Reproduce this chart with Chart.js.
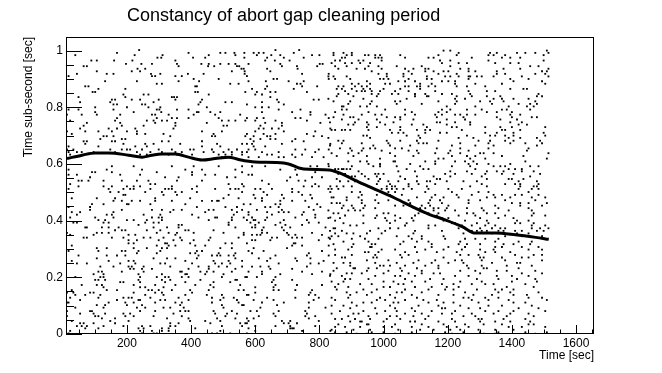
<!DOCTYPE html>
<html>
<head>
<meta charset="utf-8">
<script src="https://cdn.jsdelivr.net/npm/chart.js@4.4.1/dist/chart.umd.min.js"></script>
<style>
  html, body { margin: 0; padding: 0; background: #fff; }
</style>
</head>
<body>
<canvas id="gapChart" width="662" height="373"></canvas>
<script>
var titleText = "Constancy of abort gap cleaning period";
var xTitle = "Time [sec]";
var yTitle = "Time sub-second [sec]";

var xTickValues = [200, 400, 600, 800, 1000, 1200, 1400, 1600];
var xTickLabels = ["200", "400", "600", "800", "1000", "1200", "1400", "1600"];
var yTickValues = [0, 0.2, 0.4, 0.6, 0.8, 1];
var yTickLabels = ["0", "0.2", "0.4", "0.6", "0.8", "1"];

// the dense band (time vs sub-second offset)
var bandX = [13, 60, 101, 143, 205, 247, 278, 309, 351, 392, 434, 475, 517, 548, 600, 663, 704, 736, 767, 830, 870, 910, 953, 1036, 1099, 1140, 1192, 1245, 1286, 1349, 1411, 1474, 1515];
var bandY = [0.619, 0.631, 0.639, 0.639, 0.631, 0.624, 0.631, 0.635, 0.635, 0.624, 0.614, 0.619, 0.624, 0.616, 0.607, 0.605, 0.600, 0.586, 0.581, 0.579, 0.565, 0.543, 0.521, 0.479, 0.444, 0.423, 0.403, 0.379, 0.356, 0.356, 0.350, 0.341, 0.334];

// scattered entries, one row per sub-second value: [y, [x, x, ...]]
var dotsUpperLeft = [
  [1.002, [238, 663, 737]],
  [0.992, [169, 392, 491, 507, 535, 566, 595, 611, 626, 720]],
  [0.984, [39, 224, 311, 455, 538, 605, 650, 678, 777, 800]],
  [0.975, [295, 307, 406, 444, 566, 637, 689, 751]],
  [0.965, [89, 106, 160, 217, 351, 631, 661, 707]],
  [0.953, [197, 245, 278, 356, 432, 455, 491, 517, 538, 579, 678, 801, 810]],
  [0.945, [65, 75, 361, 453, 472, 543, 550, 683, 730, 793]],
  [0.936, [233, 257, 557, 564, 637, 732]],
  [0.927, [106, 215, 241, 527, 567, 647]],
  [0.918, [44, 137, 158, 275, 304, 390, 439, 567, 746, 829]],
  [0.910, [18, 278, 288, 351, 371, 574]],
  [0.900, [408, 486, 657, 668, 829]],
  [0.892, [132, 231, 361, 425, 579, 633, 704, 751]],
  [0.883, [293, 309, 522, 548, 730, 741]],
  [0.874, [70, 80, 413, 418, 637, 746, 793]],
  [0.865, [111, 195, 590, 631, 720]],
  [0.854, [93, 101, 413, 421, 569, 605, 647, 663, 761]],
  [0.845, [189, 252, 267, 455, 600, 621]],
  [0.836, [49, 195, 340, 347, 356, 647]],
  [0.827, [153, 163, 215, 241, 299, 351, 434, 668, 782, 798]],
  [0.818, [54, 148, 283, 429, 507, 527, 621, 673]],
  [0.810, [158, 169, 247, 257, 423, 574, 689]],
  [0.800, [101, 200, 267, 304, 449, 600, 621, 642]],
  [0.792, [18, 49, 158, 293, 301, 356, 392, 673, 741]],
  [0.783, [101, 221, 307, 418, 423, 460, 491, 621, 715, 772]],
  [0.774, [13, 59, 106, 179, 278, 288, 330, 408, 475, 553, 772, 819]],
  [0.762, [169, 293, 340, 356, 392, 486, 574, 605, 626, 725, 741, 829]],
  [0.753, [23, 163, 262, 283, 309, 325, 496, 517, 538, 569, 600, 663, 761]],
  [0.745, [75, 179, 288, 351, 449, 631, 683, 803]],
  [0.735, [65, 184, 252, 351, 501, 512, 616, 683]],
  [0.725, [54, 143, 169, 226, 345, 611, 626, 652, 673, 834]],
  [0.715, [13, 70, 111, 153, 200, 231, 434, 496, 600, 689, 787]],
  [0.706, [28, 231, 257, 314, 470, 574, 626, 663, 761]],
  [0.698, [127, 137, 158, 335, 465, 475, 569, 595, 637, 647, 782, 808]],
  [0.688, [117, 184, 195, 585, 616, 647, 663, 725]],
  [0.680, [65, 75, 153, 163, 309, 330, 434, 595, 715, 751]],
  [0.671, [70, 189, 257, 283, 366, 481, 559, 574, 590, 683, 834]],
  [0.662, [18, 111, 226, 262, 434, 491, 595, 631]],
  [0.651, [13, 33, 148, 184, 200, 210, 247, 299, 340, 397, 408, 465, 517, 543, 579, 600, 725, 756, 798, 829]],
  [0.642, [18, 44, 59, 96, 163, 231, 273, 309, 351, 371, 439, 470, 501, 527, 559, 574, 621, 673, 787]],
  [0.633, [23, 65, 241, 262, 293, 330, 356, 403, 486, 507, 527, 559, 637, 652, 715, 746]],
  [0.624, [496, 517, 579, 611, 673, 689, 725, 777, 813]],
  [0.592, [153, 221, 340, 408, 486, 559, 590, 631, 772, 793, 829]],
  [0.580, [18, 137, 247, 382, 434, 538, 678, 725]],
  [0.571, [91, 101, 153, 293, 403, 559, 787]],
  [0.562, [18, 44, 179, 241, 403, 444, 475, 579, 590, 730]],
  [0.553, [85, 319, 361, 512, 538, 709, 777, 808]],
  [0.541, [49, 59, 80, 127, 184, 231, 267, 356, 434, 621, 699, 735, 756]],
  [0.529, [23, 273, 288, 517, 559, 642, 787]]
];

var dotsUpperRight = [
  [1.000, [1187, 1208, 1509]],
  [0.992, [844, 875, 901, 1234, 1332, 1353, 1416, 1442, 1473, 1514]],
  [0.984, [844, 885, 901, 942, 953, 974, 989, 1052, 1171, 1228, 1327, 1343, 1379, 1499]],
  [0.975, [870, 880, 974, 984, 994, 1067, 1140, 1156, 1275, 1369, 1395, 1426]],
  [0.965, [849, 864, 922, 937, 994, 1176, 1208, 1327, 1499]],
  [0.956, [838, 880, 901, 927, 958, 1182, 1234, 1260, 1348, 1395, 1421]],
  [0.945, [849, 885, 953, 984, 1041, 1119, 1208, 1457, 1483]],
  [0.936, [859, 916, 942, 994, 1067, 1093, 1130, 1140, 1239, 1265, 1374, 1426, 1514]],
  [0.927, [963, 1078, 1130, 1156, 1187, 1202, 1265, 1286, 1353, 1494, 1509]],
  [0.918, [984, 1010, 1062, 1088, 1171, 1228, 1353, 1379, 1473, 1504]],
  [0.909, [828, 844, 885, 1010, 1062, 1135, 1192, 1208, 1234, 1265, 1270, 1291, 1306, 1343, 1431, 1514]],
  [0.900, [849, 896, 989, 1000, 1015, 1078, 1135, 1150, 1265, 1395, 1452]],
  [0.892, [948, 1046, 1067, 1098, 1182, 1202, 1223, 1405, 1494]],
  [0.883, [901, 922, 958, 1005, 1020, 1114, 1150, 1223, 1286, 1369, 1504]],
  [0.874, [859, 875, 911, 932, 948, 1067, 1078, 1104, 1114, 1140, 1161, 1228, 1260, 1317]],
  [0.865, [854, 870, 901, 937, 958, 1000, 1052, 1114, 1395, 1436, 1447]],
  [0.857, [880, 916, 932, 942, 963, 989, 1036, 1078, 1161, 1265, 1322, 1348]],
  [0.847, [859, 890, 963, 984, 1026, 1046, 1098, 1130, 1182, 1213, 1270, 1483]],
  [0.839, [854, 906, 979, 1098, 1135, 1140, 1228, 1275, 1322, 1364, 1478, 1494]],
  [0.830, [828, 937, 1072, 1223, 1254, 1343, 1369, 1405, 1452]],
  [0.821, [844, 896, 963, 1036, 1052, 1171, 1228, 1301, 1332, 1374, 1473]],
  [0.812, [890, 958, 1041, 1119, 1223, 1338, 1421, 1457, 1478]],
  [0.803, [870, 875, 927, 948, 979, 1197, 1286, 1390, 1447, 1468]],
  [0.792, [870, 885, 1005, 1067, 1182, 1208, 1260, 1306, 1369, 1384, 1457]],
  [0.783, [849, 953, 1088, 1171, 1197, 1322, 1353, 1400]],
  [0.774, [875, 932, 974, 994, 1067, 1098, 1161, 1182, 1223, 1239, 1260, 1286, 1395, 1426]],
  [0.765, [844, 896, 906, 1010, 1036, 1052, 1166, 1249, 1353, 1400, 1462, 1478]],
  [0.757, [870, 922, 979, 1052, 1093, 1197, 1254, 1364, 1416]],
  [0.747, [833, 911, 948, 989, 1031, 1166, 1176, 1223, 1270, 1395, 1431]],
  [0.739, [890, 906, 953, 1005, 1088, 1124, 1197, 1270, 1421, 1447]],
  [0.730, [948, 979, 1052, 1135, 1213, 1228, 1317, 1364, 1400, 1504]],
  [0.720, [838, 849, 870, 880, 896, 953, 1020, 1052, 1104, 1130, 1145, 1244, 1369, 1379, 1426]],
  [0.710, [1026, 1046, 1062, 1130, 1176, 1197, 1317, 1353, 1405, 1499]],
  [0.700, [937, 948, 1072, 1109, 1260, 1332, 1348, 1379, 1405, 1504]],
  [0.692, [828, 958, 1114, 1234, 1280, 1390, 1426, 1478]],
  [0.682, [859, 875, 1010, 1052, 1104, 1171, 1296, 1332, 1379, 1405, 1488]],
  [0.673, [870, 932, 1015, 1109, 1124, 1135, 1239, 1327, 1395, 1442, 1494]],
  [0.665, [833, 968, 1020, 1083, 1213, 1286, 1343, 1478]],
  [0.655, [864, 896, 937, 958, 974, 1036, 1057, 1166, 1239, 1327, 1452]],
  [0.647, [901, 932, 994, 1078, 1104, 1208, 1265, 1447]],
  [0.638, [838, 890, 922, 1020, 1109, 1161, 1202, 1239, 1301, 1312, 1343, 1514]],
  [0.628, [854, 906, 948, 1036, 1093, 1213, 1260, 1286, 1369, 1436]],
  [0.619, [989, 1171, 1187, 1270, 1317, 1509]],
  [0.609, [890, 927, 948, 1031, 1036, 1130, 1161, 1223, 1254, 1280, 1442]],
  [0.600, [828, 953, 989, 1083, 1161, 1265, 1291, 1327, 1395]],
  [0.592, [901, 968, 989, 1041, 1114, 1213, 1270, 1343, 1364, 1379, 1457, 1483]],
  [0.582, [849, 859, 870, 875, 885, 896, 1072, 1124, 1140, 1286, 1390, 1410, 1431]],
  [0.574, [922, 1046, 1098, 1208, 1260, 1322, 1353, 1374, 1431, 1468]],
  [0.565, [859, 880, 932, 974, 984, 1000, 1192, 1223, 1275, 1317, 1369, 1405, 1488]],
  [0.556, [890, 901, 911, 942, 979, 1052, 1104, 1156, 1208, 1306, 1457]],
  [0.547, [854, 953, 989, 1067, 1166, 1176, 1322, 1390, 1400, 1436]],
  [0.539, [864, 890, 911, 984, 1015, 1046, 1104, 1135, 1145, 1197, 1249, 1291, 1421, 1478]],
  [0.529, [979, 1020, 1078, 1109, 1161, 1306, 1379, 1410, 1426, 1483]]
];

var dotsLowerLeft = [
  [0.521, [49, 127, 153, 200, 221, 241, 340, 418, 564, 751, 777, 798, 834]],
  [0.512, [18, 143, 189, 210, 221, 273, 319, 330, 340, 403, 475, 522, 538, 548, 600, 616, 652, 715]],
  [0.501, [148, 174, 257, 309, 351, 371, 418, 559, 626, 715, 735, 834]],
  [0.491, [189, 195, 314, 356, 517, 595, 637, 683, 746, 772]],
  [0.479, [28, 106, 163, 288, 397, 501, 548, 600, 621, 689, 777]],
  [0.470, [158, 184, 215, 241, 288, 340, 434, 465, 481, 486, 621, 678, 715, 756]],
  [0.458, [91, 127, 200, 205, 273, 382, 564, 585, 663, 678, 793]],
  [0.448, [18, 85, 418, 507, 543, 631, 647, 673, 767, 803]],
  [0.438, [85, 184, 278, 309, 345, 371, 455, 470, 527, 559, 605, 683, 782]],
  [0.430, [28, 54, 158, 335, 444, 543, 579, 637, 673, 689, 704, 751]],
  [0.421, [44, 137, 153, 252, 304, 403, 533, 579, 652, 746, 787]],
  [0.411, [23, 101, 158, 278, 299, 309, 423, 475, 481, 527, 564, 590, 637, 725, 787, 834]],
  [0.402, [111, 132, 200, 221, 262, 309, 455, 527, 574, 595, 600, 631, 689, 761]],
  [0.393, [33, 44, 127, 143, 257, 283, 299, 517, 585, 611, 678, 767, 798]],
  [0.385, [236, 361, 371, 517, 600, 663, 694, 746]],
  [0.376, [70, 75, 122, 143, 174, 283, 325, 361, 538, 590, 600, 626, 683, 709, 819]],
  [0.366, [163, 184, 195, 262, 304, 382, 392, 470, 621, 689]],
  [0.357, [13, 106, 122, 143, 293, 330, 356, 408, 501, 564, 621, 637, 699, 777]],
  [0.350, [23, 96, 205, 226, 351, 564, 590, 605, 616, 704, 725, 808]],
  [0.340, [65, 75, 153, 189, 252, 273, 314, 366, 460, 548, 652, 668, 715, 730, 746, 829]],
  [0.331, [205, 231, 299, 345, 371, 408, 455, 590, 600, 647, 798]],
  [0.320, [205, 221, 319, 325, 397, 507, 527, 574, 720, 725]],
  [0.312, [28, 293, 330, 351, 413, 444, 715, 746, 829]],
  [0.303, [106, 137, 221, 262, 309, 325, 491, 527, 595, 699]],
  [0.293, [18, 111, 184, 195, 236, 304, 418, 434, 579, 626, 808]],
  [0.285, [231, 293, 397, 413, 486, 538, 590, 767]],
  [0.277, [49, 137, 169, 195, 423, 465, 481, 491, 517, 533, 663, 761, 829]],
  [0.267, [106, 283, 325, 351, 418, 538, 611, 647, 725, 772]],
  [0.258, [28, 143, 205, 221, 382, 470, 517, 559, 637, 730, 813]],
  [0.249, [44, 75, 179, 226, 304, 319, 403, 475, 496, 522, 673, 772, 798]],
  [0.238, [117, 158, 205, 215, 252, 335, 423, 455, 486, 512, 559, 590, 616, 642, 761]],
  [0.230, [210, 221, 247, 278, 392, 455, 538, 647, 715]],
  [0.220, [111, 122, 184, 252, 366, 371, 429, 449, 470, 527, 579, 621, 746, 808]],
  [0.211, [96, 127, 236, 309, 382, 387, 444, 501, 621, 678, 777, 834]],
  [0.201, [39, 117, 127, 241, 293, 319, 330, 371, 392, 496, 569, 574, 605, 663]],
  [0.191, [101, 111, 132, 236, 309, 335, 429, 538, 543, 657, 715]],
  [0.183, [179, 189, 241, 319, 382, 470, 522, 652]],
  [0.173, [59, 106, 122, 221, 288, 351, 413, 460, 553, 663, 730, 808]],
  [0.165, [127, 241, 257, 314, 470, 600, 657]],
  [0.155, [28, 137, 169, 267, 278, 299, 340, 397, 455, 548, 564, 657, 673, 725, 777]],
  [0.146, [13, 33, 85, 96, 221, 288, 309, 403, 600, 772]],
  [0.138, [39, 70, 117, 257, 314, 382, 449, 496, 574, 579, 767, 787]],
  [0.128, [23, 111, 189, 205, 215, 273, 361, 465, 501, 533, 637, 725, 798]],
  [0.120, [54, 169, 236, 241, 304, 319, 392, 491, 543, 595, 657, 782]],
  [0.111, [13, 18, 143, 195, 221, 288, 351, 371, 465, 548, 621, 689, 767]],
  [0.102, [106, 132, 200, 247, 366, 496, 559, 564, 668]],
  [0.093, [7, 39, 127, 231, 257, 314, 335, 377, 501, 616, 767, 819]],
  [0.081, [13, 85, 91, 241, 288, 366, 382, 392, 470, 527, 585, 605, 673, 756]],
  [0.072, [54, 96, 132, 189, 210, 345, 475, 512, 543, 657, 761]],
  [0.063, [13, 101, 111, 195, 221, 283, 371, 507, 611, 663, 756, 787]],
  [0.055, [122, 163, 325, 392, 481, 538, 574, 595, 767]],
  [0.046, [28, 148, 205, 397, 444, 491, 579, 683, 709, 798]],
  [0.038, [54, 65, 96, 163, 335, 361, 460, 553, 569, 574, 689, 704, 730]],
  [0.028, [44, 59, 75, 127, 189, 247, 273, 335, 351, 496, 559, 600, 663, 709, 787]],
  [0.020, [70, 111, 236, 252, 309, 330, 413, 579, 709, 715, 720]],
  [0.011, [23, 241, 278, 309, 330, 491, 600, 746, 834]],
  [0.002, [18, 247, 283, 293, 465, 481, 522, 574]]
];

var dotsLowerRight = [
  [0.521, [854, 875, 901, 1010, 1026, 1036, 1078, 1135, 1270, 1322, 1426, 1468, 1478]],
  [0.512, [828, 838, 859, 994, 1010, 1026, 1041, 1062, 1088, 1140, 1202, 1244, 1421, 1462, 1483]],
  [0.501, [901, 927, 1015, 1036, 1130, 1213, 1296, 1327, 1452]],
  [0.491, [932, 979, 1020, 1057, 1161, 1228, 1275, 1343, 1369, 1410, 1431, 1483]],
  [0.482, [838, 844, 885, 922, 1104, 1150, 1187, 1234, 1322, 1348, 1395, 1462, 1504]],
  [0.472, [885, 932, 974, 1015, 1078, 1145, 1176, 1265, 1301, 1379, 1473]],
  [0.462, [838, 854, 864, 932, 984, 1083, 1140, 1182, 1265, 1400, 1426, 1452, 1509]],
  [0.453, [875, 901, 942, 1036, 1062, 1119, 1145, 1202, 1348, 1426, 1494]],
  [0.444, [870, 906, 937, 974, 1114, 1130, 1156, 1171, 1197, 1260, 1306, 1358, 1452]],
  [0.436, [828, 890, 911, 927, 1114, 1156, 1192, 1223, 1312, 1390, 1462]],
  [0.426, [844, 859, 1000, 1015, 1109, 1140, 1171, 1260, 1280, 1322, 1348, 1468]],
  [0.418, [880, 937, 979, 1036, 1098, 1166, 1234, 1286, 1379, 1462, 1504]],
  [0.409, [828, 864, 974, 1005, 1052, 1088, 1182, 1202, 1301, 1358, 1405]],
  [0.400, [849, 1010, 1036, 1093, 1187, 1197, 1254, 1322, 1416, 1452]],
  [0.391, [875, 937, 1020, 1072, 1213, 1223, 1291, 1327, 1410, 1426, 1468]],
  [0.383, [896, 916, 1067, 1140, 1161, 1244, 1275, 1317, 1348, 1462, 1504]],
  [0.373, [844, 849, 984, 1020, 1046, 1140, 1234, 1301, 1338, 1364, 1379, 1462, 1488, 1514]],
  [0.364, [833, 870, 958, 1005, 1098, 1182, 1275, 1291, 1306, 1322, 1358, 1374, 1410, 1431, 1478, 1499]],
  [0.355, [849, 885, 906, 948, 994, 1093, 1249, 1338, 1416, 1452]],
  [0.345, [838, 859, 927, 1041, 1078, 1119, 1187, 1379, 1431, 1494]],
  [0.336, [833, 901, 942, 984, 1088, 1119, 1192, 1254, 1286, 1317, 1358]],
  [0.326, [875, 953, 1062, 1104, 1140, 1239, 1348, 1421, 1462]],
  [0.317, [844, 906, 963, 974, 1052, 1150, 1234, 1260, 1301, 1374, 1405, 1457]],
  [0.307, [901, 958, 963, 1098, 1150, 1202, 1254, 1348, 1369, 1431, 1483]],
  [0.298, [849, 890, 994, 1036, 1130, 1187, 1244, 1301, 1343, 1452, 1494]],
  [0.289, [942, 953, 984, 1067, 1104, 1166, 1228, 1317, 1348, 1395]],
  [0.279, [849, 901, 974, 1052, 1078, 1239, 1265, 1296, 1410, 1468, 1494]],
  [0.270, [870, 880, 968, 979, 1057, 1187, 1301, 1312, 1369, 1431, 1452]],
  [0.260, [948, 1015, 1109, 1161, 1223, 1244, 1306, 1379, 1494]],
  [0.251, [844, 875, 896, 974, 1041, 1093, 1150, 1202, 1249, 1338, 1416, 1426]],
  [0.241, [896, 989, 1000, 1020, 1067, 1130, 1171, 1260, 1306, 1384, 1462]],
  [0.232, [854, 906, 911, 953, 979, 1052, 1104, 1171, 1265, 1312, 1322, 1421]],
  [0.223, [844, 948, 1015, 1057, 1119, 1239, 1286, 1353, 1384, 1473]],
  [0.214, [885, 901, 932, 1000, 1078, 1119, 1156, 1176, 1301, 1431, 1494]],
  [0.205, [833, 870, 974, 1036, 1052, 1098, 1223, 1265, 1353, 1400, 1452]],
  [0.194, [880, 896, 953, 1067, 1145, 1187, 1291, 1358, 1416, 1473]],
  [0.185, [838, 875, 1000, 1031, 1088, 1130, 1239, 1306, 1400, 1478]],
  [0.176, [859, 927, 963, 1046, 1062, 1182, 1218, 1275, 1317, 1343, 1442]],
  [0.166, [849, 890, 1000, 1020, 1098, 1150, 1197, 1234, 1384, 1468]],
  [0.157, [854, 937, 979, 1067, 1140, 1192, 1218, 1291, 1348, 1369, 1405]],
  [0.147, [885, 916, 963, 1041, 1057, 1119, 1254, 1358, 1395, 1483]],
  [0.138, [896, 948, 1020, 1088, 1171, 1218, 1280, 1338, 1405, 1447]],
  [0.128, [838, 890, 989, 1036, 1104, 1249, 1265, 1317, 1358, 1452, 1494]],
  [0.120, [849, 979, 1005, 1067, 1124, 1166, 1275, 1327, 1390, 1509]],
  [0.111, [901, 937, 963, 1031, 1046, 1140, 1187, 1218, 1296, 1405, 1442]],
  [0.100, [838, 875, 916, 1020, 1109, 1171, 1239, 1327, 1369, 1462]],
  [0.091, [896, 974, 1036, 1088, 1182, 1192, 1265, 1301, 1421, 1483]],
  [0.081, [864, 937, 1005, 1041, 1098, 1150, 1223, 1317, 1358, 1405, 1504]],
  [0.072, [838, 906, 922, 979, 1067, 1119, 1182, 1213, 1275, 1343, 1395, 1452]],
  [0.063, [890, 953, 1020, 1041, 1093, 1140, 1249, 1286, 1384, 1468]],
  [0.053, [849, 870, 911, 958, 1010, 1052, 1130, 1213, 1296, 1306, 1374, 1442]],
  [0.044, [896, 927, 932, 1000, 1083, 1098, 1171, 1223, 1301, 1348, 1395, 1457]],
  [0.034, [859, 948, 953, 1036, 1119, 1187, 1254, 1312, 1369, 1452, 1468]],
  [0.025, [849, 880, 927, 1000, 1026, 1088, 1140, 1197, 1228, 1265, 1390, 1431, 1504]],
  [0.015, [838, 906, 958, 1046, 1114, 1156, 1208, 1239, 1296, 1348, 1405]],
  [0.006, [849, 885, 963, 1000, 1088, 1192, 1249, 1301, 1358, 1442, 1509]],
  [0.001, [916, 948, 1036, 1202, 1213, 1312, 1348, 1473]]
];

var FONT = "'Liberation Sans', Arial, Helvetica, sans-serif";

var dotPoints = [];
[dotsUpperLeft, dotsUpperRight, dotsLowerLeft, dotsLowerRight].forEach(function (rows) {
  rows.forEach(function (row) {
    row[1].forEach(function (x) {
      dotPoints.push({ x: x, y: row[0] });
    });
  });
});

var bandPoints = bandX.map(function (x, i) {
  return { x: x, y: bandY[i] };
});

// ROOT-like frame: box, ticks drawn inward, title at top left
var frameTicks = {
  id: "frameTicks",
  afterDatasetsDraw: function (chart) {
    var ctx = chart.ctx;
    var a = chart.chartArea;
    var xs = chart.scales.x;
    var ys = chart.scales.y;
    ctx.save();
    ctx.strokeStyle = "#000";
    ctx.lineWidth = 1;
    ctx.beginPath();
    for (var v = 50; v <= xs.max; v += 50) {
      var px = Math.round(xs.getPixelForValue(v)) + 0.5;
      var len = v % 200 === 0 ? 9 : 4.5;
      ctx.moveTo(px, a.bottom);
      ctx.lineTo(px, a.bottom - len);
    }
    for (var i = 0; i <= 20; i++) {
      var py = Math.round(ys.getPixelForValue(i * 0.05)) + 0.5;
      var len2 = i % 4 === 0 ? 16 : 8;
      ctx.moveTo(a.left, py);
      ctx.lineTo(a.left + len2, py);
    }
    ctx.stroke();
    ctx.strokeRect(a.left + 0.5, a.top + 0.5, a.right - a.left - 1, a.bottom - a.top - 1);

    ctx.fillStyle = "#000";
    ctx.font = "18px " + FONT;
    ctx.textAlign = "left";
    ctx.textBaseline = "middle";
    ctx.fillText(titleText, 127, 16);
    ctx.restore();
  }
};

var ctx = document.getElementById("gapChart").getContext("2d");
var gapChart = new Chart(ctx, {
  type: "scatter",
  data: {
    datasets: [
      {
        label: "entries",
        data: dotPoints,
        pointStyle: "rect",
        pointRadius: 1.3,
        pointBorderWidth: 0,
        pointBackgroundColor: "#000",
        showLine: false
      },
      {
        label: "band",
        data: bandPoints,
        showLine: true,
        borderColor: "#000",
        borderWidth: 3,
        pointRadius: 0,
        cubicInterpolationMode: "monotone"
      }
    ]
  },
  options: {
    responsive: false,
    animation: false,
    events: [],
    layout: { padding: { top: 37, right: 68, left: 0, bottom: 0 } },
    plugins: {
      legend: { display: false },
      tooltip: { enabled: false }
    },
    scales: {
      x: {
        type: "linear",
        min: 10,
        max: 1656,
        grid: { display: false, drawTicks: false },
        border: { display: false },
        afterFit: function (s) { s.height = 39; },
        afterBuildTicks: function (s) {
          s.ticks = xTickValues.map(function (v) { return { value: v }; });
        },
        ticks: {
          padding: 2,
          color: "#000",
          maxRotation: 0,
          font: { family: FONT, size: 12 },
          callback: function (value, index) { return xTickLabels[index]; }
        },
        title: {
          display: true,
          text: xTitle,
          align: "end",
          color: "#000",
          font: { family: FONT, size: 12 },
          padding: { top: 0, bottom: 10 }
        }
      },
      y: {
        type: "linear",
        min: 0,
        max: 1.048,
        grid: { display: false, drawTicks: false },
        border: { display: false },
        afterFit: function (s) { s.width = 66; },
        afterBuildTicks: function (s) {
          s.ticks = yTickValues.map(function (v) { return { value: v }; });
        },
        ticks: {
          padding: 3,
          color: "#000",
          font: { family: FONT, size: 12 },
          callback: function (value, index) { return yTickLabels[index]; }
        },
        title: {
          display: true,
          text: yTitle,
          align: "end",
          color: "#000",
          font: { family: FONT, size: 12 },
          padding: { top: 21, bottom: 0 }
        }
      }
    }
  },
  plugins: [frameTicks]
});
</script>
</body>
</html>
